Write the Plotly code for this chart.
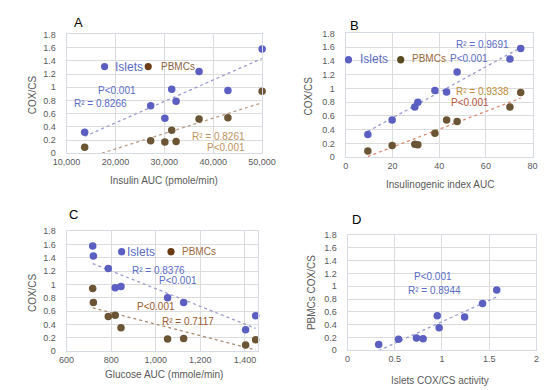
import numpy as np
import plotly.graph_objects as go

# ---------------- data ----------------
# Panel A: insulin AUC vs COX/CS
A_x = [13700, 27200, 30100, 31500, 32400, 37100, 43000, 50000]
A_islets = [0.32, 0.72, 0.53, 0.97, 0.79, 1.24, 0.95, 1.58]
A_pbmc = [0.09, 0.19, 0.17, 0.35, 0.18, 0.52, 0.54, 0.94]

# Panel B: insulinogenic index AUC vs COX/CS
B_x = [9.5, 19.9, 29.6, 30.9, 38.2, 43.2, 47.7, 70.3, 74.9]
B_islets = [0.33, 0.54, 0.73, 0.80, 0.97, 0.95, 1.24, 1.43, 1.58]
B_pbmc = [0.09, 0.17, 0.19, 0.18, 0.35, 0.54, 0.52, 0.73, 0.94]

# Panel C: glucose AUC vs COX/CS
C_x = [717, 720, 787, 818, 844, 1053, 1125, 1403, 1448]
C_islets = [1.58, 1.43, 1.24, 0.95, 0.97, 0.80, 0.73, 0.32, 0.53]
C_pbmc = [0.94, 0.73, 0.52, 0.54, 0.35, 0.18, 0.19, 0.09, 0.17]

# Panel D: islets COX/CS vs PBMCs COX/CS
D_x = [0.33, 0.54, 0.73, 0.80, 0.95, 0.97, 1.24, 1.43, 1.58]
D_y = [0.09, 0.17, 0.19, 0.18, 0.54, 0.35, 0.52, 0.73, 0.94]

# ---------------- style ----------------
FONT = "Liberation Sans"
ISL_M = "#5b5fc2"
PBM_M = "#6b5535"
ISL_T = "#5a6cc6"
TICK = "#595959"
GRID = "#dcdcdc"
W, H = 550, 390


def P(px, py):
    return px / W, 1 - py / H


fig = go.Figure()


def add_points(x, y, color, ax):
    fig.add_trace(go.Scatter(x=x, y=y, mode="markers", xaxis="x" + ax, yaxis="y" + ax,
                             marker=dict(color=color, size=7.5), cliponaxis=False,
                             showlegend=False, hoverinfo="x+y"))


def add_trend(x, y, color, ax):
    xa = np.array(x, float)
    k, b = np.polyfit(xa, np.array(y, float), 1)
    xs = [xa.min(), xa.max()]
    fig.add_trace(go.Scatter(x=xs, y=[k * v + b for v in xs], mode="lines",
                             xaxis="x" + ax, yaxis="y" + ax,
                             line=dict(color=color, width=1.3, dash="dot"),
                             showlegend=False, hoverinfo="skip"))


# A
add_trend(A_x, A_islets, "#9a9cd0", "")
add_trend(A_x, A_pbmc, "#b89c84", "")
add_points(A_x, A_islets, ISL_M, "")
add_points(A_x, A_pbmc, PBM_M, "")
# B
add_trend(B_x, B_islets, "#9a9cd0", "2")
add_trend(B_x, B_pbmc, "#d98a74", "2")
add_points(B_x, B_islets, ISL_M, "2")
add_points(B_x, B_pbmc, PBM_M, "2")
# C
add_trend(C_x, C_islets, "#9a9cd0", "3")
add_trend(C_x, C_pbmc, "#a88a70", "3")
add_points(C_x, C_islets, ISL_M, "3")
add_points(C_x, C_pbmc, PBM_M, "3")
# D
add_trend(D_x, D_y, "#9a9cd0", "4")
add_points(D_x, D_y, ISL_M, "4")

axcommon = dict(showgrid=True, gridcolor=GRID, gridwidth=1, zeroline=False,
                showline=True, mirror=True, linecolor="#d6dbe6", linewidth=1,
                ticks="", tickfont=dict(family=FONT, size=9, color=TICK))

# domains (pixel -> paper)
domA = ([47 / W, 253 / W], [1 - 144 / H, 1 - 22 / H])
domB = ([341 / W, 538 / W], [1 - 148 / H, 1 - 21 / H])
domC = ([47 / W, 249 / W], [1 - 347 / H, 1 - 224 / H])
domD = ([343 / W, 542 / W], [1 - 346 / H, 1 - 228 / H])

yaxis_kw = dict(range=[0, 1.8], dtick=0.2, tick0=0, ticklabelstandoff=8, **axcommon)
xkw = dict(ticklabelstandoff=0, **axcommon)

fig.update_layout(
    width=W, height=H, margin=dict(l=0, r=0, t=0, b=0),
    paper_bgcolor="white", plot_bgcolor="white",
    font=dict(family=FONT),
    xaxis=dict(domain=domA[0], anchor="y", range=[10000, 50000], dtick=10000,
               tickformat=",", **xkw),
    yaxis=dict(domain=domA[1], anchor="x", **yaxis_kw),
    xaxis2=dict(domain=domB[0], anchor="y2", range=[0, 80], dtick=20, **xkw),
    yaxis2=dict(domain=domB[1], anchor="x2", **yaxis_kw),
    xaxis3=dict(domain=domC[0], anchor="y3", range=[600, 1460], tick0=600, dtick=200,
                tickformat=",", **xkw),
    yaxis3=dict(domain=domC[1], anchor="x3", **yaxis_kw),
    xaxis4=dict(domain=domD[0], anchor="y4", range=[0, 2], dtick=0.5, **xkw),
    yaxis4=dict(domain=domD[1], anchor="x4", **yaxis_kw),
)

ann = []
shapes = []


def T(text, px, py, color="black", size=10, angle=0, xanchor="center"):
    x, y = P(px, py)
    ann.append(dict(text=text, x=x, y=y, xref="paper", yref="paper", showarrow=False,
                    xanchor=xanchor, yanchor="middle", textangle=angle,
                    font=dict(family=FONT, size=size, color=color)))


def DOT(px, py, color, r=3.8):
    shapes.append(dict(type="circle", xref="paper", yref="paper",
                       x0=(px - r) / W, x1=(px + r) / W,
                       y0=1 - (py + r) / H, y1=1 - (py - r) / H,
                       fillcolor=color, line=dict(width=0)))


# panel letters
T("A", 60, 10, size=13)
T("B", 350, 13, size=13)
T("C", 54, 207, size=13)
T("D", 352, 212, size=13)

# axis titles
T("COX/CS", 11, 84, TICK, 10, -90)
T("Insulin AUC (pmole/min)", 150, 172, TICK, 10)
T("COX/CS", 302, 85, TICK, 10, -90)
T("Insulinogenic index AUC", 440, 176, TICK, 10)
T("COX/CS", 11, 287, TICK, 10, -90)
T("Glucose AUC (mmole/min)", 150, 371, TICK, 10)
T("PBMCs COX/CS", 305, 287, TICK, 10, -90)
T("Islets COX/CS activity", 440, 377, TICK, 10)

# A legend / stats
DOT(87, 55, ISL_M)
T("Islets", 113, 55, ISL_T, 12)
DOT(133, 55, "#6e3e14")
T("PBMCs", 164, 55, "#8c6440", 10)
T("P<0.001", 100, 80, ISL_T, 10)
T("R² = 0.8266", 83, 93, ISL_T, 10)
T("R² = 0.8261", 207, 127, "#c09460", 10)
T("P<0.001", 215, 138, "#c09460", 10)

# B legend / stats
DOT(344, 48, ISL_M)
T("Islets", 371, 47, ISL_T, 12)
DOT(399, 48, "#5a4a20")
T("PBMCs", 429, 47, "#9a6a3a", 10)
T("P<0.001", 471, 47, ISL_T, 10)
T("R² = 0.9691", 485, 32, ISL_T, 10)
T("R² = 0.9338", 485, 81, "#c08a3a", 10)
T("P<0.001", 472, 92, "#b5533a", 10)

# C legend / stats
DOT(105, 245, ISL_M)
T("Islets", 125, 245, ISL_T, 12)
DOT(157, 245, "#6a3a10")
T("PBMCs", 187, 245, "#9a6a3a", 10)
T("R² = 0.8376", 144, 264, ISL_T, 10)
T("P<0.001", 164, 275, ISL_T, 10)
T("P<0.001", 141, 301, "#9a5a30", 10)
T("R² = 0.7117", 175, 317, "#9a5a30", 10)

# D stats
T("P<0.001", 433, 270, ISL_T, 10)
T("R² = 0.8944", 435, 285, ISL_T, 10)

fig.update_layout(annotations=ann, shapes=shapes)
fig.write_html("out.html")
